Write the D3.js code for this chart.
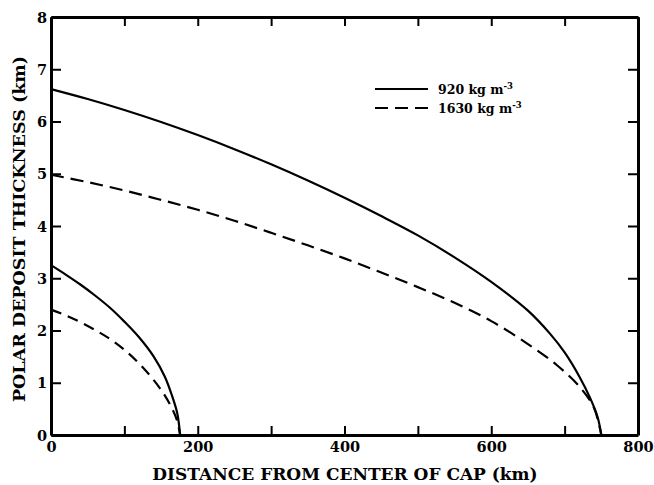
<!DOCTYPE html>
<html>
<head>
<meta charset="utf-8">
<script src="https://cdn.jsdelivr.net/npm/d3@7"></script>
<style>
  html, body { margin: 0; padding: 0; background: #fff; }
  svg { display: block; }
  text { font-family: "DejaVu Serif", "Liberation Serif", serif; font-weight: bold; fill: #000; }
</style>
</head>
<body>
<svg id="chart" width="654" height="485"></svg>
<script>
// Polar deposit thickness profiles (km) versus distance from the cap centre (km)
const largeCapDist920  = [0, 50, 100, 150, 200, 250, 300, 350, 400, 450, 500, 550, 600, 650, 680, 700, 720, 735, 745, 750];
const largeCap920      = [6.62, 6.43, 6.22, 5.99, 5.74, 5.47, 5.18, 4.87, 4.54, 4.19, 3.82, 3.40, 2.93, 2.38, 1.94, 1.58, 1.12, 0.70, 0.34, 0];
const largeCapDist1630 = [0, 50, 100, 150, 200, 250, 300, 350, 400, 450, 500, 550, 600, 650, 690, 720, 740, 750];
const largeCap1630     = [4.98, 4.84, 4.68, 4.50, 4.31, 4.10, 3.87, 3.63, 3.38, 3.11, 2.83, 2.53, 2.18, 1.74, 1.33, 0.93, 0.52, 0];
const smallCapDist920  = [0, 20, 40, 60, 80, 100, 120, 140, 155, 165, 172, 176];
const smallCap920      = [3.25, 3.07, 2.88, 2.67, 2.44, 2.17, 1.87, 1.50, 1.12, 0.75, 0.42, 0];
const smallCapDist1630 = [0, 20, 40, 60, 80, 100, 120, 140, 155, 166, 172, 176];
const smallCap1630     = [2.40, 2.29, 2.16, 2.01, 1.84, 1.63, 1.37, 1.05, 0.76, 0.48, 0.27, 0];

const xTicks = [0, 200, 400, 600, 800];
const xMinorTicks = [100, 300, 500, 700];
const yTicks = [0, 1, 2, 3, 4, 5, 6, 7, 8];
const legendLabels = ["920 kg m", "1630 kg m"];

const svg = d3.select("#chart");
const x = d3.scaleLinear().domain([0, 800]).range([51, 638]);
const y = d3.scaleLinear().domain([0, 8]).range([435, 17]);

const zip = (xs, ys) => xs.map((d, i) => [d, ys[i]]);
const series = [
  { pts: zip(largeCapDist920, largeCap920), dash: null },
  { pts: zip(largeCapDist1630, largeCap1630), dash: "13,7" },
  { pts: zip(smallCapDist920, smallCap920), dash: null },
  { pts: zip(smallCapDist1630, smallCap1630), dash: "11,7" }
];

const line = d3.line()
  .x(d => x(d[0]))
  .y(d => y(d[1]))
  .curve(d3.curveCatmullRom.alpha(0.5));

svg.append("g").selectAll("path")
  .data(series)
  .join("path")
  .attr("d", d => line(d.pts))
  .attr("fill", "none")
  .attr("stroke", "#000")
  .attr("stroke-width", 2.2)
  .attr("stroke-dasharray", d => d.dash);

// Axes with inward ticks on all four sides
const allX = xTicks.concat(xMinorTicks);
const axisB = svg.append("g").attr("transform", `translate(0,${y(0)})`)
  .call(d3.axisBottom(x).tickValues(allX).tickSizeInner(-9).tickSizeOuter(0).tickFormat(d => xTicks.includes(d) ? d : ""));
const axisT = svg.append("g").attr("transform", `translate(0,${y(8)})`)
  .call(d3.axisTop(x).tickValues(allX).tickSizeInner(-9).tickSizeOuter(0).tickFormat(""));
const axisL = svg.append("g").attr("transform", `translate(${x(0)},0)`)
  .call(d3.axisLeft(y).tickValues(yTicks).tickSizeInner(-10).tickSizeOuter(0).tickFormat(d3.format("d")));
const axisR = svg.append("g").attr("transform", `translate(${x(800)},0)`)
  .call(d3.axisRight(y).tickValues(yTicks).tickSizeInner(-10).tickSizeOuter(0).tickFormat(""));

[axisB, axisT, axisL, axisR].forEach(g => {
  g.select(".domain").attr("stroke", "#000").attr("stroke-width", 3);
  g.selectAll(".tick line").attr("stroke", "#000").attr("stroke-width", 2);
  g.selectAll(".tick text").style("font-family", "DejaVu Serif").style("font-weight", "bold").attr("font-size", 14.5).attr("fill", "#000");
});
axisB.selectAll(".tick text").attr("y", 7).attr("dy", "0.71em");
axisL.selectAll(".tick text").attr("x", -4).attr("dy", "0.36em");

// Axis titles
svg.append("text")
  .attr("x", 345).attr("y", 480)
  .attr("text-anchor", "middle")
  .attr("font-size", 17)
  .text("DISTANCE FROM CENTER OF CAP (km)");

svg.append("text")
  .attr("transform", "translate(25,229) rotate(-90)")
  .attr("text-anchor", "middle")
  .attr("font-size", 17.5)
  .text("POLAR DEPOSIT THICKNESS (km)");

// Legend
const legend = svg.append("g");
legendLabels.forEach((lab, i) => {
  const yy = 89 + i * 19;
  legend.append("line")
    .attr("x1", 375).attr("x2", 428).attr("y1", yy).attr("y2", yy)
    .attr("stroke", "#000").attr("stroke-width", 2.2)
    .attr("stroke-dasharray", i === 0 ? null : "13,7");
  const t = legend.append("text")
    .attr("x", 438).attr("y", yy + 4.5)
    .attr("font-size", 12.5);
  t.append("tspan").text(lab);
  t.append("tspan").attr("dy", -5).attr("font-size", 8.5).text("-3");
});
</script>
</body>
</html>
